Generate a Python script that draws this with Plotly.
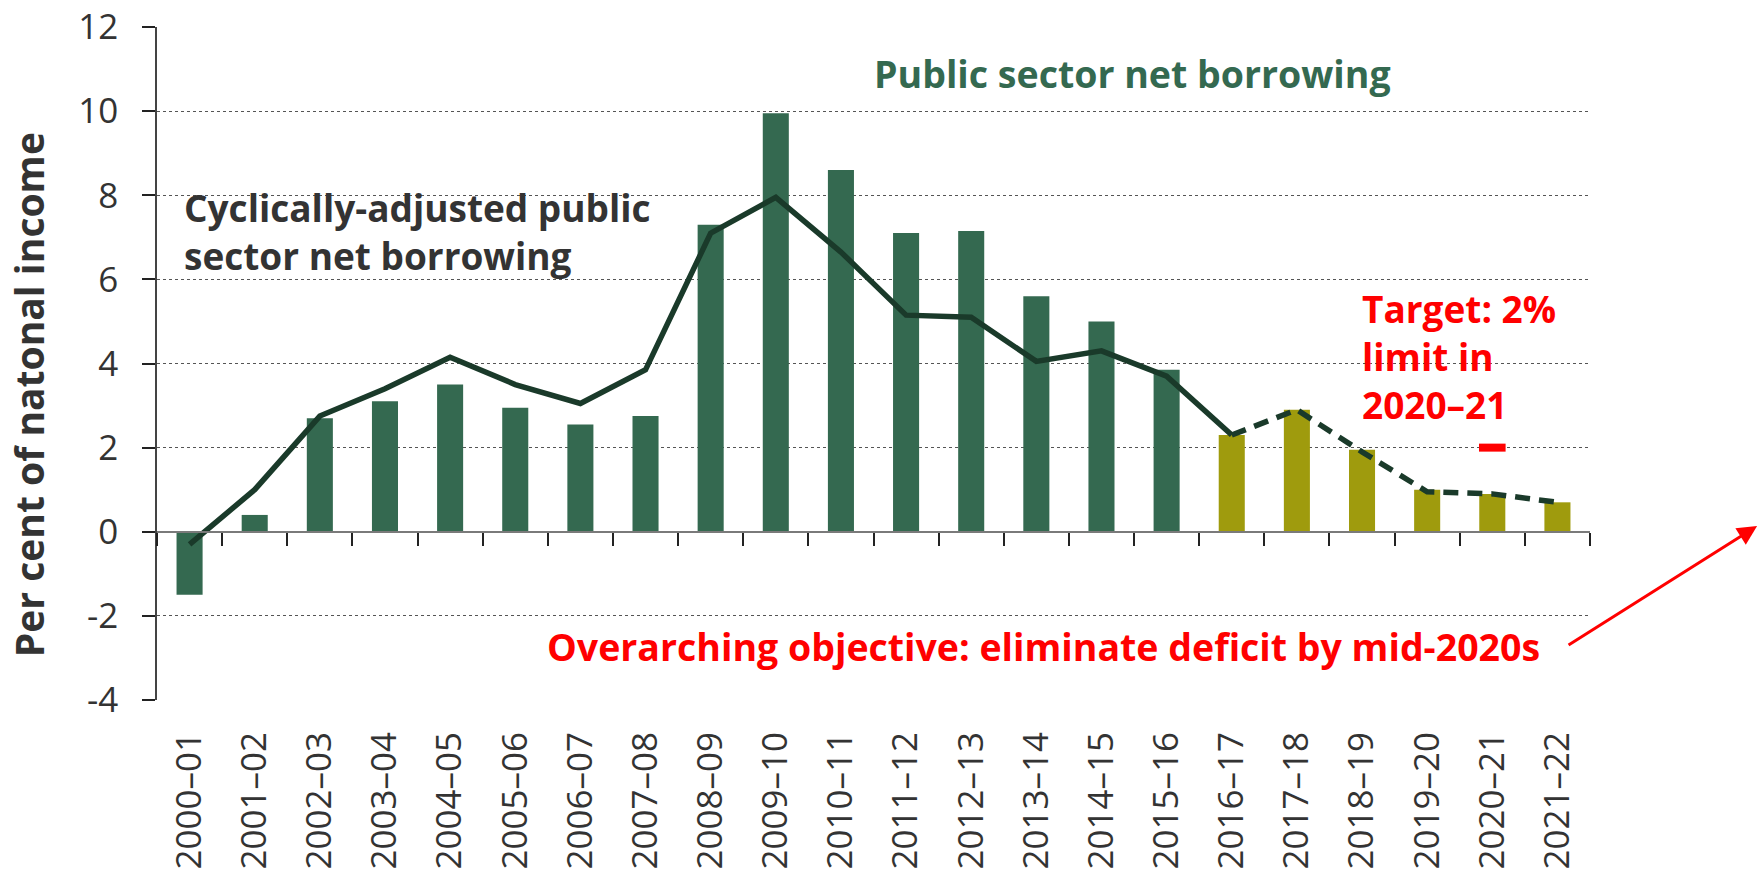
import plotly.graph_objects as go

# Fiscal years on the category axis
years = ["2000\u201301", "2001\u201302", "2002\u201303", "2003\u201304", "2004\u201305",
         "2005\u201306", "2006\u201307", "2007\u201308", "2008\u201309", "2009\u201310",
         "2010\u201311", "2011\u201312", "2012\u201313", "2013\u201314", "2014\u201315",
         "2015\u201316", "2016\u201317", "2017\u201318", "2018\u201319", "2019\u201320",
         "2020\u201321", "2021\u201322"]

# Public sector net borrowing, per cent of national income
psnb = [-1.5, 0.4, 2.7, 3.1, 3.5, 2.95, 2.55, 2.75, 7.3, 9.95, 8.6,
        7.1, 7.15, 5.6, 5.0, 3.85, 2.3, 2.9, 1.95, 1.0, 0.9, 0.7]

# Cyclically-adjusted public sector net borrowing
capsnb = [-0.3, 1.0, 2.75, 3.4, 4.15, 3.5, 3.05, 3.85, 7.1, 7.95, 6.65,
          5.15, 5.1, 4.05, 4.3, 3.7, 2.3, 2.9, 1.9, 0.95, 0.9, 0.7]

# First year of the forecast period
forecast_from = "2016\u201317"

# Fiscal mandate target
target_year = ["2020\u201321"]
target_value = [2.0]

y_ticks = [-4, -2, 0, 2, 4, 6, 8, 10, 12]

GREEN = "#346950"
OLIVE = "#9f9b0d"
LINE = "#1a3a2a"
RED = "#ff0000"
TEXT = "#333333"
FONT = "Open Sans"

split = years.index(forecast_from)
bar_colors = [GREEN if i < split else OLIVE for i in range(len(years))]

fig = go.Figure()

fig.add_trace(go.Bar(
    x=years, y=psnb, marker=dict(color=bar_colors, line=dict(width=0)),
    hoverinfo="x+y", showlegend=False,
))

# Outturn (solid) and forecast (dashed) parts of the cyclically-adjusted line
fig.add_trace(go.Scatter(
    x=years[:split + 1], y=capsnb[:split + 1], mode="lines",
    line=dict(color=LINE, width=5.5), showlegend=False,
))
fig.add_trace(go.Scatter(
    x=years[split:], y=capsnb[split:], mode="lines",
    line=dict(color=LINE, width=5.5, dash="15px,9px"), showlegend=False,
))

fig.add_trace(go.Scatter(
    x=target_year, y=target_value, mode="markers",
    marker=dict(symbol="line-ew-open", size=19, color=RED,
                line=dict(color=RED, width=8)),
    showlegend=False,
))

# Invisible trace carrying the baseline axis drawn at zero
fig.add_trace(go.Scatter(
    x=years, y=[0] * len(years), xaxis="x2", mode="markers",
    marker=dict(opacity=0), hoverinfo="skip", showlegend=False,
))

bold = lambda size, color: dict(size=size, color=color, weight=700)

fig.update_layout(
    width=1761, height=869,
    margin=dict(l=157, r=171, t=27, b=169, autoexpand=False),
    paper_bgcolor="white", plot_bgcolor="white",
    bargap=0.6,
    font=dict(family=FONT, color=TEXT),
    xaxis=dict(
        type="category", categoryorder="array", categoryarray=years,
        range=[-0.5, len(years) - 0.5], automargin=False,
        showline=False, showgrid=False, zeroline=False, ticks="",
        tickangle=-90, tickfont=dict(size=35, color=TEXT),
        ticklabelstandoff=24,
    ),
    xaxis2=dict(
        type="category", categoryorder="array", categoryarray=years,
        matches="x", overlaying="x", anchor="free", position=0.25, automargin=False,
        showline=True, linecolor="#7a7a7a", linewidth=2,
        ticks="outside", tickson="boundaries", ticklen=13, tickwidth=1.5,
        tickcolor="#222222", showticklabels=False, showgrid=False, zeroline=False,
    ),
    yaxis=dict(
        range=[-4, 12], tickvals=y_ticks, ticktext=[str(v) for v in y_ticks],
        automargin=False,
        showline=True, linecolor="#444444", linewidth=1.5,
        ticks="outside", ticklen=13, tickwidth=1.5, tickcolor="#222222",
        showgrid=True, gridcolor="#555555", gridwidth=1, griddash="dot",
        zeroline=False,
        tickfont=dict(size=35, color=TEXT), ticklabelstandoff=17,
    ),
    annotations=[
        dict(text="Per cent of natonal income", xref="paper", yref="paper",
             x=-0.09, y=0.453, textangle=-90, xanchor="center", yanchor="middle",
             showarrow=False, font=bold(39, TEXT)),
        dict(text="Public sector net borrowing", xref="paper", yref="y",
             x=0.6804, y=10.89, xanchor="center", yanchor="middle", showarrow=False,
             font=bold(37.5, GREEN)),
        dict(text="Cyclically-adjusted public<br>sector net borrowing", xref="paper", yref="y",
             x=0.0175, y=7.13, xanchor="left", yanchor="middle", align="left", showarrow=False,
             font=bold(37, TEXT)),
        dict(text="Target: 2%<br>limit in<br>2020\u201321", xref="paper", yref="y",
             x=0.8395, y=4.16, xanchor="left", yanchor="middle", align="left", showarrow=False,
             font=bold(37, RED)),
        dict(text="Overarching objective: eliminate deficit by mid-2020s", xref="paper", yref="y",
             x=0.2708, y=-2.73, xanchor="left", yanchor="middle", showarrow=False,
             font=bold(37.5, RED)),
        dict(text="", xref="paper", yref="paper", x=1.1166, y=0.2585,
             ax=-190, ay=120, axref="pixel", ayref="pixel",
             showarrow=True, arrowhead=2, arrowsize=1.3, arrowwidth=3, arrowcolor=RED),
    ],
)

fig.write_html("out.html")
